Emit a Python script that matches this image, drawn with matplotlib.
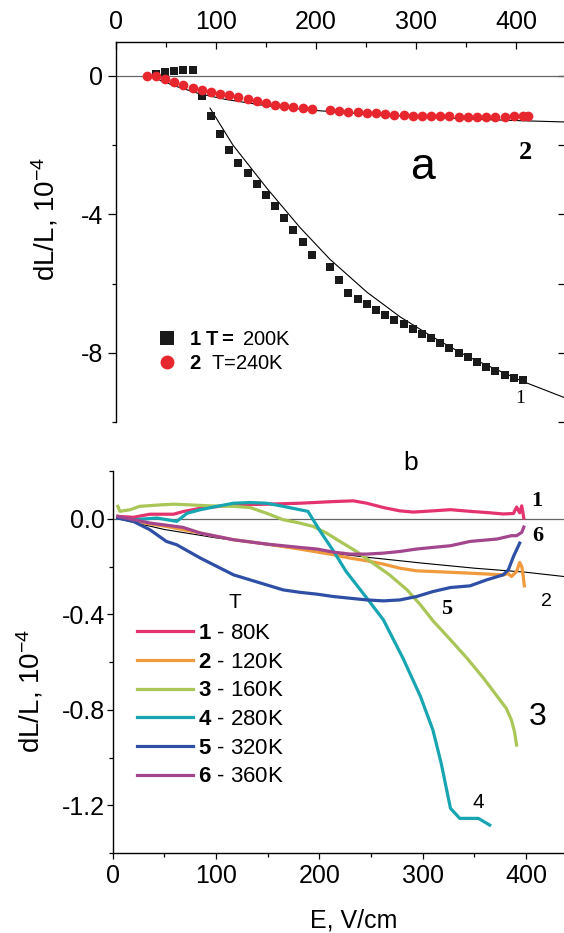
import matplotlib
matplotlib.use('Agg')
import matplotlib.pyplot as plt
from matplotlib.ticker import MultipleLocator, FormatStrFormatter
from matplotlib.lines import Line2D

plt.rcParams['font.family'] = ['Liberation Sans', 'DejaVu Sans']
plt.rcParams['mathtext.fontset'] = 'custom'
plt.rcParams['mathtext.rm'] = 'Liberation Sans'
plt.rcParams['mathtext.bf'] = 'Liberation Sans:bold'
plt.rcParams['mathtext.it'] = 'Liberation Sans:italic'
plt.rcParams['axes.unicode_minus'] = False

# DATA -----------------------------------------------------------------------
# panel a, curve 1 (T=200K), squares
e_sq = [40, 49, 58, 67, 77, 86, 95, 104, 113, 122, 132, 141, 150, 159, 168, 177, 187, 196,
        214, 223, 232, 242, 251, 260, 269, 278, 288, 297, 306, 315, 324, 333, 343, 352,
        361, 370, 379, 389, 398, 407]
dl_sq = [0.05, 0.11, 0.14, 0.16, 0.16, -0.57, -1.17, -1.69, -2.13, -2.52, -2.81, -3.12,
         -3.44, -3.76, -4.10, -4.45, -4.80, -5.17, -5.53, -5.90, -6.28, -6.44, -6.60,
         -6.75, -6.91, -7.04, -7.18, -7.31, -7.45, -7.58, -7.72, -7.85, -8.00, -8.13,
         -8.27, -8.40, -8.53, -8.64, -8.74, -8.79]
# panel a, curve 2 (T=240K), circles
e_ci = [31, 40, 49, 58, 67, 77, 86, 95, 104, 113, 122, 132, 141, 150, 159, 168, 177, 187,
        196, 214, 223, 232, 242, 251, 260, 269, 278, 288, 297, 306, 315, 324, 333, 343,
        352, 361, 370, 379, 389, 398, 407, 412]
dl_ci = [0.0, 0.0, -0.10, -0.17, -0.25, -0.34, -0.40, -0.46, -0.51, -0.56, -0.62, -0.67,
         -0.73, -0.78, -0.83, -0.87, -0.91, -0.93, -0.96, -0.98, -1.00, -1.03, -1.05,
         -1.06, -1.08, -1.10, -1.12, -1.14, -1.15, -1.16, -1.17, -1.17, -1.17, -1.18,
         -1.18, -1.18, -1.18, -1.18, -1.18, -1.17, -1.17, -1.17]
# fit curves panel a
fit1_e = [94, 117, 151, 184, 214, 251, 284, 317, 351, 407, 448]
fit1_dl = [-0.93, -2.00, -3.25, -4.38, -5.30, -6.25, -6.96, -7.55, -8.10, -8.83, -9.29]
fit2_e = [44, 60, 84, 110, 150, 200, 250, 300, 350, 400, 448]
fit2_dl = [-0.13, -0.30, -0.52, -0.68, -0.86, -1.00, -1.10, -1.18, -1.24, -1.29, -1.33]

# panel b
e1 = [5, 20, 36, 59, 68, 85, 101, 117, 149, 181, 214, 233, 246, 262, 278, 291, 310, 327,
      346, 365, 378, 388, 391, 394, 396, 398]
d1 = [0.01, 0.006, 0.019, 0.019, 0.03, 0.044, 0.051, 0.058, 0.061, 0.065, 0.072, 0.075,
      0.065, 0.047, 0.033, 0.028, 0.033, 0.038, 0.031, 0.025, 0.020, 0.022, 0.049, 0.025,
      0.054, 0.003]
e2 = [5, 20, 52, 85, 117, 149, 181, 214, 230, 246, 262, 278, 294, 310, 346, 378, 383, 386,
      391, 394, 396, 397.5, 398.5]
d2 = [0.01, -0.011, -0.032, -0.060, -0.088, -0.106, -0.127, -0.151, -0.165, -0.176, -0.190,
      -0.207, -0.218, -0.221, -0.228, -0.235, -0.230, -0.242, -0.221, -0.183, -0.200,
      -0.242, -0.281]
e3 = [5, 7, 17, 26, 46, 59, 75, 94, 117, 133, 149, 165, 181, 194, 207, 220, 236, 252, 268,
      285, 298, 310, 327, 343, 359, 381, 386, 389, 391]
d3 = [0.052, 0.031, 0.038, 0.052, 0.058, 0.061, 0.058, 0.054, 0.052, 0.047, 0.023, -0.004,
      -0.018, -0.032, -0.060, -0.095, -0.137, -0.186, -0.235, -0.298, -0.361, -0.427,
      -0.507, -0.584, -0.668, -0.794, -0.843, -0.892, -0.948]
e4 = [5, 20, 43, 62, 72, 85, 101, 117, 133, 149, 165, 181, 189, 201, 214, 226, 247, 262,
      281, 298, 310, 318, 327, 336, 354, 365]
d4 = [0.003, -0.004, 0.003, -0.011, 0.023, 0.038, 0.052, 0.065, 0.068, 0.065, 0.052, 0.038,
      0.031, -0.053, -0.137, -0.221, -0.338, -0.423, -0.584, -0.745, -0.885, -1.024,
      -1.213, -1.255, -1.255, -1.283]
e5 = [5, 20, 36, 52, 62, 85, 101, 117, 133, 149, 165, 181, 198, 214, 230, 246, 262, 278,
      294, 310, 327, 346, 362, 378, 383, 388, 394]
d5 = [0.003, -0.011, -0.046, -0.095, -0.109, -0.165, -0.200, -0.235, -0.256, -0.277, -0.298,
      -0.308, -0.316, -0.326, -0.333, -0.340, -0.344, -0.340, -0.326, -0.305, -0.288,
      -0.281, -0.256, -0.235, -0.214, -0.158, -0.102]
e6 = [5, 36, 68, 85, 117, 149, 181, 198, 214, 230, 246, 262, 278, 294, 310, 327, 346, 372,
      386, 391, 396, 398]
d6 = [0.01, -0.018, -0.036, -0.060, -0.088, -0.106, -0.120, -0.127, -0.140, -0.148, -0.148,
      -0.144, -0.137, -0.127, -0.120, -0.113, -0.095, -0.085, -0.071, -0.071, -0.057, -0.035]
fitb_e = [5, 50, 100, 150, 200, 250, 300, 350, 400, 437]
fitb_d = [0.0, -0.045, -0.080, -0.110, -0.138, -0.163, -0.186, -0.207, -0.224, -0.242]

labels_b = ['1', '2', '3', '4', '5', '6']
temps_b = ['80K', '120K', '160K', '280K', '320K', '360K']
colors_b = ['#e5336d', '#f09a3e', '#a9c657', '#17a5b2', '#2e4fa5', '#a4468e']

# FIGURE ---------------------------------------------------------------------
W, H = 564, 933
fig = plt.figure(figsize=(W / 100, H / 100), dpi=100)
TICKFS = 18

# ---------- panel a
ax1 = fig.add_axes([116 / W, (H - 422) / H, 448 / W, 380 / H])
ax1.set_xlim(0, 448)
ax1.set_ylim(-10, 0.98)
ax1.axhline(0, color='#666666', lw=0.9, zorder=1)
ax1.plot(fit1_e, fit1_dl, color='black', lw=0.8, zorder=2)
ax1.plot(fit2_e, fit2_dl, color='black', lw=0.8, zorder=2)
ax1.plot(e_sq, dl_sq, 's', color='#1a1a1a', ms=6, mew=0, zorder=3)
ax1.plot(e_ci, dl_ci, 'o', color='#e8262d', ms=7, mew=0, zorder=4)

for s in ['bottom', 'right']:
    ax1.spines[s].set_visible(False)
for s in ['top', 'left']:
    ax1.spines[s].set_linewidth(1.0)
ax1.xaxis.set_ticks_position('top')
ax1.xaxis.set_major_locator(MultipleLocator(100))
ax1.xaxis.set_minor_locator(MultipleLocator(50))
ax1.yaxis.set_major_locator(MultipleLocator(4))
ax1.yaxis.set_minor_locator(MultipleLocator(2))
ax1.tick_params(axis='x', which='major', direction='in', length=5, width=0.9,
                labelsize=TICKFS, pad=6)
ax1.tick_params(axis='x', which='minor', direction='in', length=3.4, width=0.9)
ax1.tick_params(axis='y', which='major', direction='out', length=5.5, width=0.9,
                labelsize=TICKFS, pad=4)
ax1.tick_params(axis='y', which='minor', direction='out', length=3, width=0.9)

sec = ax1.secondary_yaxis('right')
sec.yaxis.set_major_locator(MultipleLocator(2))
sec.tick_params(direction='in', length=4, width=0.9, labelright=False)
sec.spines['right'].set_visible(False)

ax1.set_ylabel(r'dL/L, 10$^{-4}$', fontsize=20)
ax1.yaxis.set_label_coords(-0.125, 0.534)

ax1.text(306, -2.66, 'a', fontsize=32, ha='center', va='center')
ax1.text(409, -2.2, '2', fontsize=19, family='Liberation Serif', weight='bold',
         ha='center', va='center')
ax1.text(404, -9.31, '1', fontsize=14, family='Liberation Serif', ha='center', va='center')

h_a = [Line2D([], [], ls='none', marker='s', color='#1a1a1a', ms=9.5, mew=0),
       Line2D([], [], ls='none', marker='o', color='#e8262d', ms=10, mew=0)]
ax1.legend(h_a, [r'$\mathbf{1\ T=}$ 200K', r'$\mathbf{2}$  T=240K'],
           loc='upper left', bbox_to_anchor=(157 / W, 1 - 330 / H),
           bbox_transform=fig.transFigure, frameon=False, fontsize=14.5,
           handlelength=1.0, handletextpad=0.6, labelspacing=0.25,
           borderpad=0, borderaxespad=0)

# ---------- panel b
ax2 = fig.add_axes([112.7 / W, (H - 853) / H, 451.3 / W, 382 / H])
ax2.set_xlim(0, 436.9)
ax2.set_ylim(-1.4, 0.2)
ax2.axhline(0, color='#666666', lw=0.9, zorder=1)
ax2.plot(fitb_e, fitb_d, color='black', lw=0.8, zorder=2)

series_b = [(e1, d1), (e2, d2), (e3, d3), (e4, d4), (e5, d5), (e6, d6)]
handles_b = []
for (xs, ys), c in zip(series_b, colors_b):
    ln, = ax2.plot(xs, ys, color=c, lw=2.3, solid_joinstyle='round', zorder=3)
    handles_b.append(ln)

for s in ['top', 'right']:
    ax2.spines[s].set_visible(False)
for s in ['bottom', 'left']:
    ax2.spines[s].set_linewidth(1.0)
ax2.xaxis.set_major_locator(MultipleLocator(100))
ax2.xaxis.set_minor_locator(MultipleLocator(50))
ax2.yaxis.set_major_locator(MultipleLocator(0.4))
ax2.yaxis.set_minor_locator(MultipleLocator(0.2))
ax2.yaxis.set_major_formatter(FormatStrFormatter('%.1f'))
ax2.tick_params(axis='x', which='major', direction='out', length=4, width=0.9,
                labelsize=TICKFS, pad=4)
ax2.tick_params(axis='x', which='minor', direction='out', length=3, width=0.9)
ax2.tick_params(axis='y', which='major', direction='out', length=4.3, width=0.9,
                labelsize=TICKFS, pad=1.5)
ax2.tick_params(axis='y', which='minor', direction='out', length=3, width=0.9)

ax2.set_ylabel(r'dL/L, 10$^{-4}$', fontsize=20)
ax2.yaxis.set_label_coords(-0.148, 0.424)
ax2.set_xlabel('E, V/cm', fontsize=18)
ax2.xaxis.set_label_coords(0.535, -0.145)

ax2.text(288, 0.235, 'b', fontsize=19, ha='center', va='center', clip_on=False)
serif_b = dict(family='Liberation Serif', weight='bold', fontsize=16, ha='center', va='center')
ax2.text(410.5, 0.073, '1', **serif_b)
ax2.text(412, -0.071, '6', **serif_b)
ax2.text(323.6, -0.377, '5', **serif_b)
ax2.text(419.5, -0.347, '2', fontsize=14, ha='center', va='center')
ax2.text(411.7, -0.830, '3', fontsize=23, ha='center', va='center')
ax2.text(353.6, -1.19, '4', fontsize=15, ha='center', va='center')
ax2.text(118.4, -0.352, 'T', fontsize=15, ha='center', va='center')

ax2.legend(handles_b, [r'$\mathbf{%s}$ - %s' % (n, t) for n, t in zip(labels_b, temps_b)],
           loc='upper left', bbox_to_anchor=(137 / W, 1 - 623 / H),
           bbox_transform=fig.transFigure, frameon=False, fontsize=16,
           handlelength=2.5, handletextpad=0.26, labelspacing=0.345,
           borderpad=0, borderaxespad=0)

fig.savefig('out.png', dpi=100)
